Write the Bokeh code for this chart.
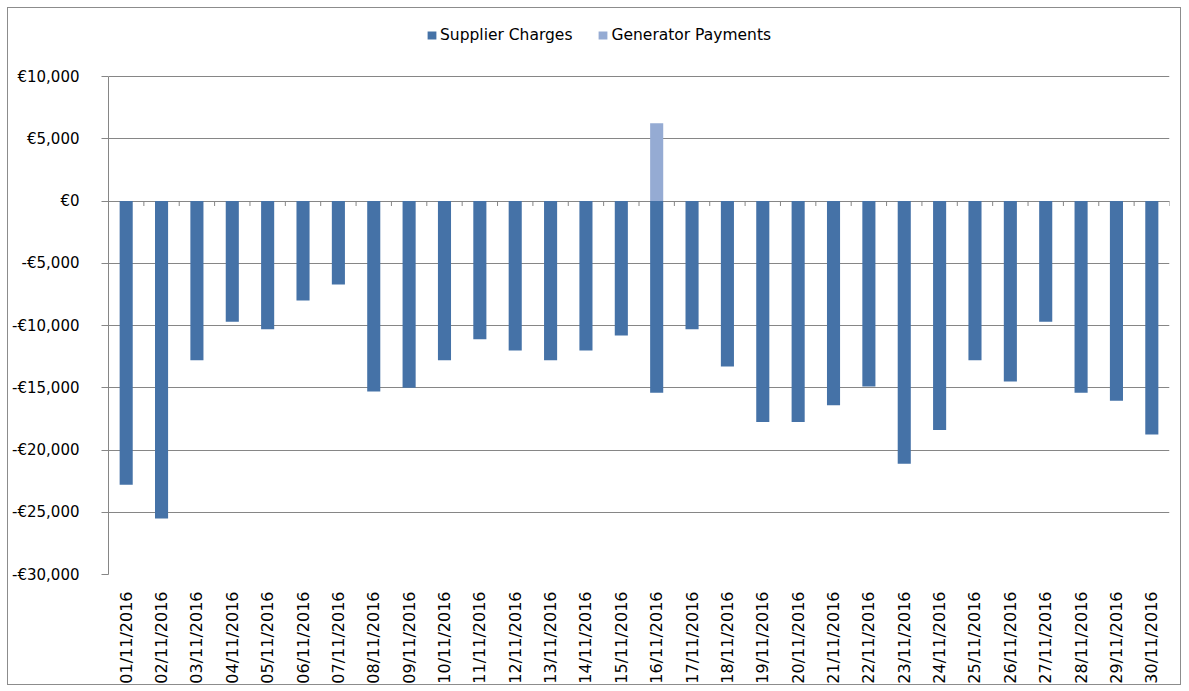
import math
from bokeh.plotting import figure
from bokeh.models import ColumnDataSource, FixedTicker, Legend, LegendItem, Range1d
from bokeh.embed import file_html
from bokeh.resources import INLINE

dates = ["01/11/2016", "02/11/2016", "03/11/2016", "04/11/2016", "05/11/2016",
         "06/11/2016", "07/11/2016", "08/11/2016", "09/11/2016", "10/11/2016",
         "11/11/2016", "12/11/2016", "13/11/2016", "14/11/2016", "15/11/2016",
         "16/11/2016", "17/11/2016", "18/11/2016", "19/11/2016", "20/11/2016",
         "21/11/2016", "22/11/2016", "23/11/2016", "24/11/2016", "25/11/2016",
         "26/11/2016", "27/11/2016", "28/11/2016", "29/11/2016", "30/11/2016"]

supplier_charges = [-22800, -25500, -12800, -9700, -10300, -8000, -6700, -15300,
                    -15000, -12800, -11100, -12000, -12800, -12000, -10800, -15400,
                    -10300, -13300, -17750, -17750, -16400, -14900, -21100, -18400,
                    -12800, -14500, -9700, -15400, -16050, -18750]

generator_payments = [0, 0, 0, 0, 0, 0, 0, 0, 0, 0, 0, 0, 0, 0, 0, 6250,
                      0, 0, 0, 0, 0, 0, 0, 0, 0, 0, 0, 0, 0, 0]

y_ticks = [-30000, -25000, -20000, -15000, -10000, -5000, 0, 5000, 10000]
y_tick_labels = ["-€30,000", "-€25,000", "-€20,000", "-€15,000", "-€10,000",
                 "-€5,000", "€0", "€5,000", "€10,000"]

series_names = ["Supplier Charges", "Generator Payments"]
series_colors = ["#4572A7", "#95ABD3"]

FONT = "DejaVu Sans"
GRAY = "#868686"

W, H = 1174, 678
BORDER_TOP, BORDER_BOTTOM = 10, 112
AXIS_TOP_PX = 68            # pixel row of the top tick inside the figure
frame_h = H - BORDER_TOP - BORDER_BOTTOM
axis_h = H - BORDER_BOTTOM - AXIS_TOP_PX
y_lo, y_hi = y_ticks[0], y_ticks[-1]
y_top = y_lo + (y_hi - y_lo) * frame_h / axis_h   # headroom for the legend

n = len(dates)
xs = list(range(1, n + 1))
src = ColumnDataSource(dict(x=xs, sup=supplier_charges, gen=generator_payments))

p = figure(width=W, height=H, output_backend="svg", toolbar_location=None,
           x_range=Range1d(0.5, n + 0.5), y_range=Range1d(y_lo, y_top),
           min_border_left=100, min_border_right=13, min_border_top=BORDER_TOP,
           min_border_bottom=BORDER_BOTTOM, background_fill_color="white",
           border_fill_color="white")
p.outline_line_color = None
p.styles = {"border": "1px solid #8c8c8c", "margin-left": "7px", "margin-top": "7px"}

r_sup = p.vbar(x="x", top="sup", bottom=0, width=0.37, source=src,
               fill_color=series_colors[0], line_color=None)
r_gen = p.vbar(x="x", top="gen", bottom=0, width=0.37, source=src,
               fill_color=series_colors[1], line_color=None)

# category separator tick marks on the zero axis
sep = [i + 0.5 for i in range(0, n + 1)]
tick_len = (y_top - y_lo) / frame_h * 5
p.segment(x0=sep, x1=sep, y0=[0] * len(sep), y1=[-tick_len] * len(sep),
          line_color=GRAY, line_width=1)

# y axis
p.yaxis.ticker = FixedTicker(ticks=y_ticks)
p.yaxis.bounds = (y_lo, y_hi)
p.yaxis.major_label_overrides = {t: l for t, l in zip(y_ticks, y_tick_labels)}
p.yaxis.axis_line_color = GRAY
p.yaxis.major_tick_line_color = GRAY
p.yaxis.major_tick_out = 7
p.yaxis.major_tick_in = 0
p.yaxis.minor_tick_line_color = None
p.yaxis.major_label_standoff = 22
p.yaxis.major_label_text_font = FONT
p.yaxis.major_label_text_font_size = "15px"
p.yaxis.major_label_text_color = "#000000"

# x axis
p.xaxis.ticker = FixedTicker(ticks=xs)
p.xaxis.major_label_overrides = {x: d for x, d in zip(xs, dates)}
p.xaxis.major_label_orientation = math.pi / 2
p.xaxis.axis_line_color = None
p.xaxis.major_tick_line_color = None
p.xaxis.minor_tick_line_color = None
p.xaxis.major_label_standoff = 11
p.xaxis.major_label_text_font = FONT
p.xaxis.major_label_text_font_size = "16px"
p.xaxis.major_label_text_color = "#000000"

p.xgrid.grid_line_color = None
p.ygrid.ticker = FixedTicker(ticks=y_ticks)
p.ygrid.grid_line_color = GRAY
p.ygrid.grid_line_width = 1

legend = Legend(items=[LegendItem(label=series_names[0], renderers=[r_sup]),
                       LegendItem(label=series_names[1], renderers=[r_gen])],
                orientation="horizontal", location=(318, frame_h - 26),
                glyph_width=11, glyph_height=10, label_standoff=3, spacing=25,
                padding=0, margin=0, border_line_color=None,
                background_fill_alpha=0, label_text_font=FONT,
                label_text_font_size="15.5px", label_text_color="#000000",
                label_height=18)
p.add_layout(legend, "center")

open("out.html", "w").write(file_html(p, INLINE))
